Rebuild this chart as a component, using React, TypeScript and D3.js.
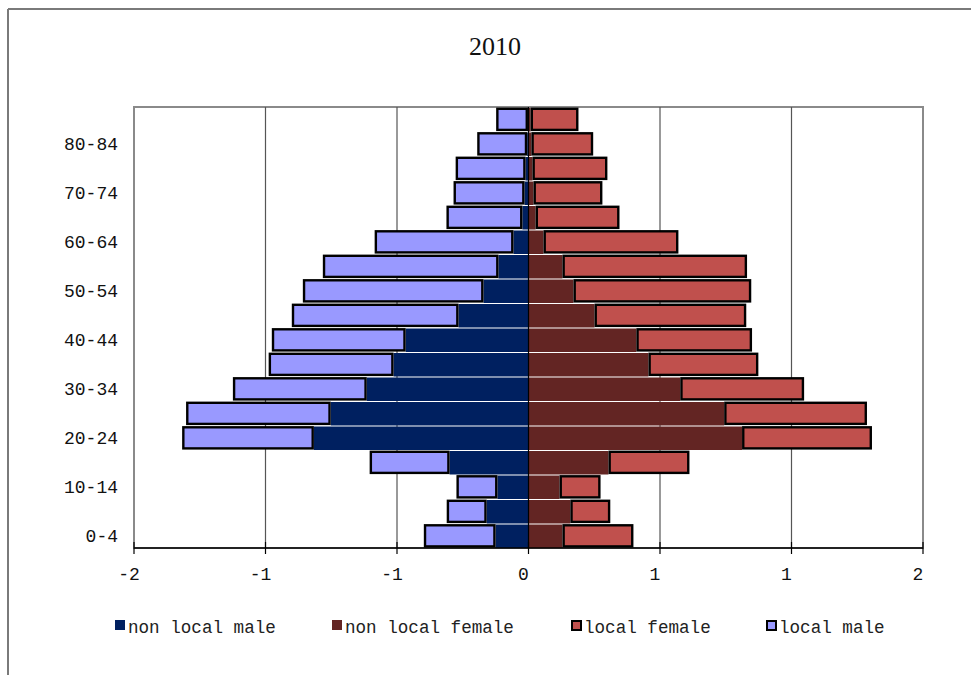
import React from "react";
import * as d3 from "d3";

// Age groups, youngest first
const ageGroups = [
  "0-4", "5-9", "10-14", "15-19", "20-24", "25-29", "30-34", "35-39", "40-44",
  "45-49", "50-54", "55-59", "60-64", "65-69", "70-74", "75-79", "80-84", "85+",
];

// Shares (%) — males drawn to the left as negative values
const nonLocalMale = [
  -0.125, -0.159, -0.118, -0.3, -0.816, -0.752, -0.615, -0.513, -0.467,
  -0.266, -0.171, -0.114, -0.057, -0.023, -0.015, -0.011, -0.005, -0.002,
];
const localMale = [
  -0.273, -0.152, -0.156, -0.304, -0.501, -0.55, -0.509, -0.475, -0.509,
  -0.634, -0.687, -0.668, -0.528, -0.289, -0.27, -0.266, -0.19, -0.121,
];
const nonLocalFemale = [
  0.129, 0.159, 0.118, 0.304, 0.812, 0.744, 0.577, 0.456, 0.41,
  0.251, 0.171, 0.129, 0.057, 0.027, 0.019, 0.015, 0.011, 0.008,
];
const localFemale = [
  0.27, 0.152, 0.156, 0.308, 0.494, 0.543, 0.471, 0.418, 0.44,
  0.577, 0.676, 0.702, 0.513, 0.319, 0.262, 0.285, 0.235, 0.182,
];

const xTickValues = [-1.5, -1, -0.5, 0, 0.5, 1, 1.5];
const xTickLabels = ["-2", "-1", "-1", "0", "1", "1", "2"];

const title = "2010";
const legendItems = [
  { label: "non local male", color: "#002060", outlined: false, x: 115 },
  { label: "non local female", color: "#632523", outlined: false, x: 332 },
  { label: "local female", color: "#C0504D", outlined: true, x: 571 },
  { label: "local male", color: "#9999FF", outlined: true, x: 766 },
];

const W = 971;
const H = 675;
const plot = { left: 134, right: 923, top: 107, bottom: 548 };
const mono = "'Liberation Mono', 'DejaVu Sans Mono', monospace";

export default function App() {
  const x = d3.scaleLinear().domain([-1.5, 1.5]).range([plot.left, plot.right]);
  const y = d3
    .scaleBand<string>()
    .domain(ageGroups)
    .range([plot.bottom, plot.top])
    .paddingInner(0)
    .paddingOuter(0);
  const bw = y.bandwidth();
  const sw = 2.4;

  const rows = ageGroups.map((g, i) => ({
    g,
    top: y(g) as number,
    nlm: nonLocalMale[i],
    lm: localMale[i],
    nlf: nonLocalFemale[i],
    lf: localFemale[i],
  }));

  return (
    <svg
      width={W}
      height={H}
      style={{ position: "absolute", left: 0, top: 0, background: "#fff" }}
    >
      {/* outer chart frame (open on right and bottom) */}
      <line x1={8} y1={9} x2={W} y2={9} stroke="#7a7a7a" strokeWidth={2} />
      <line x1={8} y1={9} x2={8} y2={H} stroke="#7a7a7a" strokeWidth={2} />

      <text
        x={495}
        y={55}
        textAnchor="middle"
        fontFamily="'Liberation Serif', 'DejaVu Serif', serif"
        fontSize={26}
        fill="#111"
      >
        {title}
      </text>

      {/* plot frame */}
      <rect
        x={plot.left}
        y={plot.top}
        width={plot.right - plot.left}
        height={plot.bottom - plot.top}
        fill="#fff"
        stroke="#8a8a8a"
        strokeWidth={2}
      />

      {/* vertical gridlines */}
      {xTickValues
        .filter((v) => v !== 0 && v !== -1.5 && v !== 1.5)
        .map((v) => (
          <line
            key={"g" + v}
            x1={x(v)}
            x2={x(v)}
            y1={plot.top}
            y2={plot.bottom}
            stroke="#555"
            strokeWidth={1.2}
          />
        ))}

      {/* non local segments, from zero outward */}
      {rows.map((r) => (
        <g key={"nl" + r.g}>
          <rect
            x={x(r.nlm)}
            y={r.top + 1}
            width={x(0) - x(r.nlm)}
            height={bw - 1}
            fill="#002060"
          />
          <rect
            x={x(0)}
            y={r.top + 1}
            width={x(r.nlf) - x(0)}
            height={bw - 1}
            fill="#632523"
          />
        </g>
      ))}

      {/* local segments, stacked beyond the non local ones */}
      {rows.map((r) => (
        <g key={"l" + r.g}>
          <rect
            x={x(r.nlm + r.lm) + sw / 2}
            y={r.top + 1.8}
            width={x(r.nlm) - x(r.nlm + r.lm) - sw}
            height={bw - 3.4}
            fill="#9999FF"
            stroke="#000"
            strokeWidth={sw}
          />
          <rect
            x={x(r.nlf) + sw / 2}
            y={r.top + 1.8}
            width={x(r.nlf + r.lf) - x(r.nlf) - sw}
            height={bw - 3.4}
            fill="#C0504D"
            stroke="#000"
            strokeWidth={sw}
          />
        </g>
      ))}

      {/* zero line */}
      <line
        x1={x(0)}
        x2={x(0)}
        y1={plot.top}
        y2={plot.bottom}
        stroke="#000"
        strokeWidth={1.2}
      />

      {/* x axis */}
      <line
        x1={plot.left}
        x2={plot.right}
        y1={plot.bottom}
        y2={plot.bottom}
        stroke="#000"
        strokeWidth={1.5}
      />
      {xTickValues.map((v, i) => (
        <g key={"t" + i}>
          <line
            x1={x(v)}
            x2={x(v)}
            y1={plot.bottom - 6}
            y2={plot.bottom + 6}
            stroke="#000"
            strokeWidth={1.2}
          />
          <text
            x={x(v) - 5}
            y={580}
            textAnchor="middle"
            fontFamily={mono}
            fontSize={18}
            fill="#111"
          >
            {xTickLabels[i]}
          </text>
        </g>
      ))}

      {/* y axis labels, every other age group */}
      {ageGroups.map((g, i) =>
        i % 2 === 0 ? (
          <text
            key={"y" + g}
            x={118}
            y={(y(g) as number) + bw / 2}
            dy="0.35em"
            textAnchor="end"
            fontFamily={mono}
            fontSize={18}
            fill="#111"
          >
            {g}
          </text>
        ) : null
      )}

      {/* legend */}
      {legendItems.map((it) => (
        <g key={it.label}>
          <rect
            x={it.x + (it.outlined ? 1 : 0)}
            y={it.outlined ? 621 : 620}
            width={it.outlined ? 9 : 10}
            height={it.outlined ? 9 : 10}
            fill={it.color}
            stroke={it.outlined ? "#000" : "none"}
            strokeWidth={2}
          />
          <text
            x={it.x + 13}
            y={633}
            fontFamily={mono}
            fontSize={17.6}
            fill="#222"
          >
            {it.label}
          </text>
        </g>
      ))}
    </svg>
  );
}
